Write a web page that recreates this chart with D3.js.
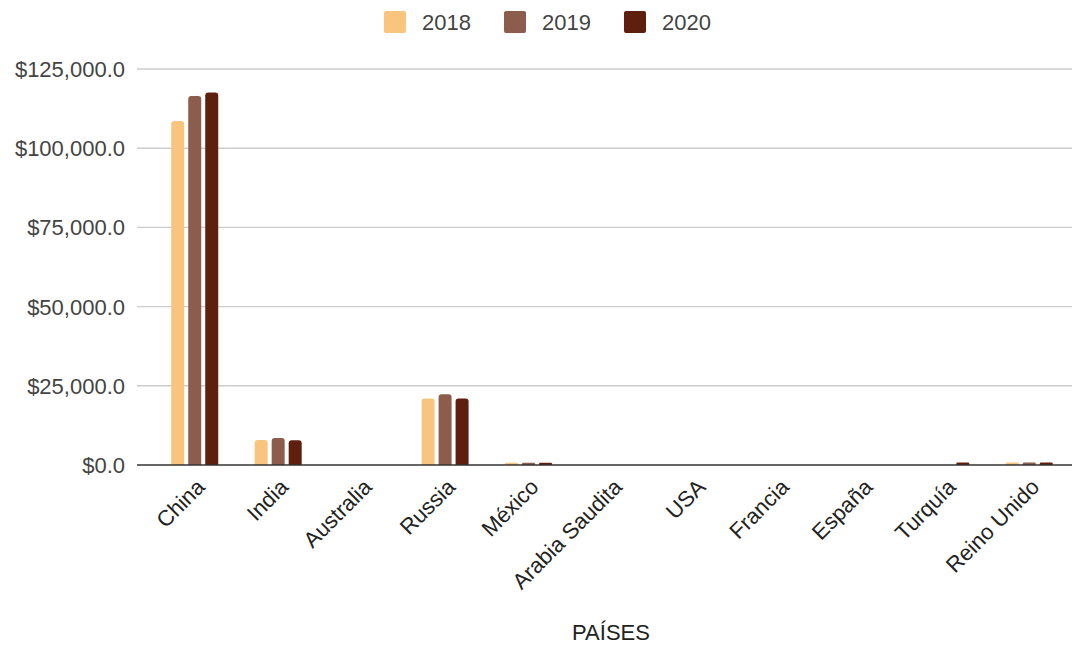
<!DOCTYPE html>
<html>
<head>
<meta charset="utf-8">
<script src="https://cdn.jsdelivr.net/npm/d3@7"></script>
<style>
  body { margin: 0; background: #fff; }
  svg { display: block; font-family: "Liberation Sans", Arial, sans-serif; }
</style>
</head>
<body>
<svg id="chart" width="1074" height="646"></svg>
<script>
const countries = ["China", "India", "Australia", "Russia", "México", "Arabia Saudita", "USA", "Francia", "España", "Turquía", "Reino Unido"];
const years = ["2018", "2019", "2020"];
const colors = ["#f9c47e", "#8c5c4d", "#5e1f0f"];
const v2018 = [108600, 7900, 0, 21000, 700, 0, 0, 0, 0, 0, 800];
const v2019 = [116500, 8500, 0, 22300, 700, 0, 0, 0, 0, 0, 800];
const v2020 = [117600, 7800, 0, 21000, 700, 0, 0, 0, 0, 800, 800];
const yTicks = [0, 25000, 50000, 75000, 100000, 125000];
const xTitle = "PAÍSES";

const series = [v2018, v2019, v2020];

const svg = d3.select("#chart");

const margin = {top: 69, right: 2, bottom: 181, left: 137};
const width = 1074, height = 646;

const y = d3.scaleLinear()
	.domain([0, 125000])
	.range([height - margin.bottom, margin.top]);

const x = d3.scaleBand()
	.domain(countries)
	.range([153, 1071]);

const xs = d3.scaleBand()
	.domain(years)
	.range([-23.5, 23.5])
	.paddingInner(4 / 17);

// gridlines
svg.append("g")
	.selectAll("line")
	.data(yTicks.filter(d => d > 0))
	.join("line")
	.attr("x1", margin.left)
	.attr("x2", width - margin.right)
	.attr("y1", d => y(d))
	.attr("y2", d => y(d))
	.attr("stroke", "#cccccc")
	.attr("stroke-width", 1.4);

// y labels
const fmt = d3.format("$,.1f");
svg.append("g")
	.selectAll("text")
	.data(yTicks)
	.join("text")
	.attr("x", 125)
	.attr("y", d => y(d))
	.attr("dy", "0.36em")
	.attr("text-anchor", "end")
	.attr("font-size", 22)
	.attr("fill", "#444")
	.text(d => fmt(d));

// bars with rounded tops
function barPath(x0, w, y0, y1) {
	const h = y0 - y1;
	const r = Math.min(3, h / 2, w / 2);
	return `M${x0},${y0}V${y1 + r}Q${x0},${y1} ${x0 + r},${y1}H${x0 + w - r}Q${x0 + w},${y1} ${x0 + w},${y1 + r}V${y0}Z`;
}

const barData = [];
countries.forEach((c, i) => {
	years.forEach((yr, j) => {
		if (series[j][i] > 0) barData.push({c: c, yr: yr, v: series[j][i], color: colors[j]});
	});
});

svg.append("g")
	.selectAll("path")
	.data(barData)
	.join("path")
	.attr("fill", d => d.color)
	.attr("d", d => {
		const cx = x(d.c) + x.bandwidth() / 2;
		return barPath(cx + xs(d.yr), xs.bandwidth(), y(0), y(d.v));
	});

// baseline
svg.append("line")
	.attr("x1", margin.left)
	.attr("x2", width - margin.right)
	.attr("y1", y(0))
	.attr("y2", y(0))
	.attr("stroke", "#333")
	.attr("stroke-width", 1.6);

// x labels
svg.append("g")
	.selectAll("text")
	.data(countries)
	.join("text")
	.attr("transform", d => `translate(${x(d) + x.bandwidth() / 2 + 6},${y(0) + 18}) rotate(-45)`)
	.attr("dy", "0.35em")
	.attr("text-anchor", "end")
	.attr("font-size", 22)
	.attr("fill", "#222")
	.text(d => d);

// x title
svg.append("text")
	.attr("x", 611)
	.attr("y", 640)
	.attr("text-anchor", "middle")
	.attr("font-size", 22)
	.attr("fill", "#222")
	.text(xTitle);

// legend
const legend = svg.append("g")
	.selectAll("g")
	.data(years)
	.join("g")
	.attr("transform", (d, i) => `translate(${384 + i * 120},11)`);

legend.append("rect")
	.attr("width", 22)
	.attr("height", 22)
	.attr("rx", 2)
	.attr("fill", (d, i) => colors[i]);

legend.append("text")
	.attr("x", 38)
	.attr("y", 11)
	.attr("dy", "0.36em")
	.attr("font-size", 22)
	.attr("fill", "#444")
	.text(d => d);
</script>
</body>
</html>
